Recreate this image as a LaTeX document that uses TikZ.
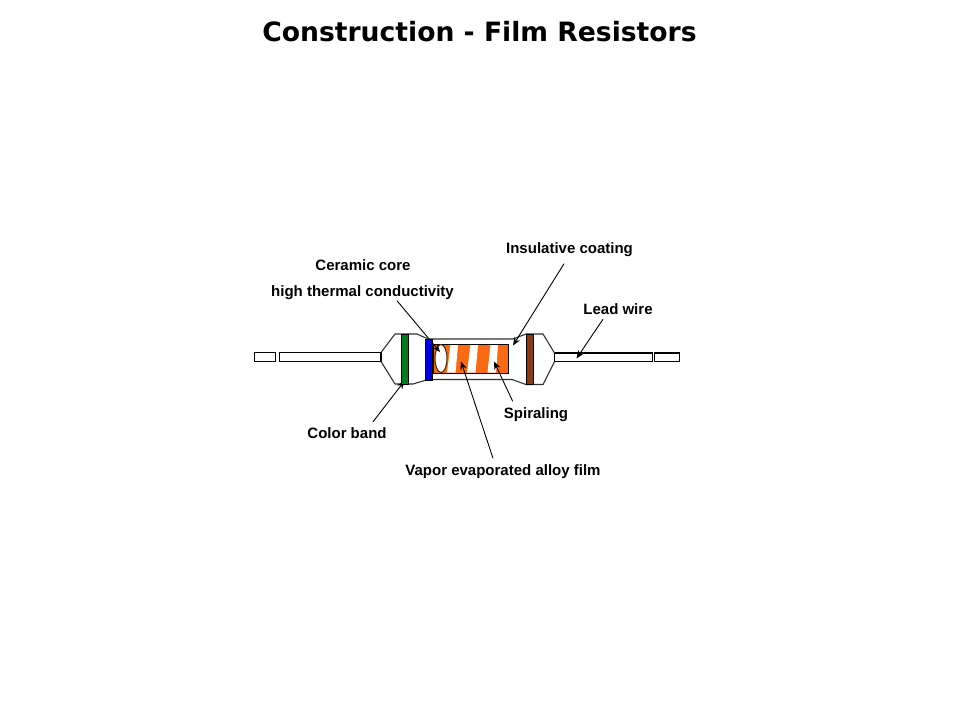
\documentclass[tikz,border=0pt]{standalone}
\usepackage{fontspec}
\setmainfont{Liberation Sans}
\newfontfamily\titlefont{DejaVu Sans}
\usepackage{xcolor}
\usetikzlibrary{arrows.meta, positioning, shapes.geometric}
\definecolor{filmorange}{HTML}{F96A12}
\definecolor{bandgreen}{HTML}{0B7A1E}
\definecolor{bandblue}{HTML}{0000DC}
\definecolor{bandbrown}{HTML}{8A3A16}
\tikzset{
    wire/.style = {draw, fill=white, line width=1.2pt},
    shell/.style = {line width=1.1pt, black!80},
    band/.style = {line width=0.3pt},
    partlabel/.style = {font=\bfseries\fontsize{15}{17}\selectfont, inner sep=1pt},
    pointer/.style = {-{Stealth[length=8pt,width=6.5pt]}, line width=0.9pt}
}
\begin{document}
\begin{tikzpicture}[x=1pt, y=-1pt]
    \useasboundingbox (0,0) rectangle (960,720);
    \node (title) at (479.5,32) [font=\titlefont\bfseries\fontsize{26.6}{30}\selectfont, inner sep=0pt] {Construction - Film Resistors};

    % lead wires
    \draw [wire] (254.5,352.5) rectangle (275.5,361.5);
    \draw [wire] (279.5,352.5) rectangle (381,361.5);
    \draw [wire] (554.5,353) rectangle (652.5,361.5);
    \draw [wire] (654.5,353) rectangle (679.5,361.5);

    % coated body
    \draw [shell] (381,352.5) -- (395,334) -- (417,334) -- (428,339) -- (513,339)
        -- (526,334) -- (543,334) -- (554.5,353);
    \draw [shell] (381,361.5) -- (395,384) -- (413,384) -- (428,379.5) -- (512,379.5)
        -- (526,384.5) -- (543,384.5) -- (554.5,361.5);

    % film on the core
    \fill [filmorange] (433,344.5) rectangle (508,373);
    \draw [line width=1pt] (433,344.5) rectangle (508,373);
    \foreach \xa/\xb in {447/450.5, 467/470.5, 487.5/490.5}
        \fill [white] (\xb,345) -- (\xb+7.5,345) -- (\xa+8.5,372.6) -- (\xa,372.6) -- cycle;
    \node (core) at (441,358.5) [draw=black!70!filmorange, fill=white, ellipse, line width=1pt, minimum width=12pt, minimum height=28pt, inner sep=0pt] {};

    % labels
    \node (ceramic) at (363,265) [partlabel] {Ceramic core};
    \node (thermal) at (362.5,292.5) [partlabel] {high thermal conductivity};
    \node (coating) at (569.5,249.5) [partlabel] {Insulative coating};
    \node (lead) at (618,309.5) [partlabel] {Lead wire};
    \node (spiral) at (536,414.5) [partlabel] {Spiraling};
    \node (color) at (347,433.5) [partlabel] {Color band};
    \node (vapor) at (503,471.5) [partlabel] {Vapor evaporated alloy film};

    \coordinate (coretip) at (440,352);
    \coordinate (coattip) at (513,345.5);
    \coordinate (leadtip) at (576.5,358.5);
    \coordinate (spiraltip) at (494,361.5);
    \coordinate (vaportip) at (461,361.5);
    \coordinate (colortip) at (404.5,381);

    \path [pointer]
        ([xshift=34.5]thermal.south) edge (coretip)
        ([xshift=-5.5, yshift=-6]coating.south) edge (coattip)
        ([xshift=-15, yshift=-3]lead.south) edge (leadtip)
        ([xshift=-23.3, yshift=5]spiral.north) edge (spiraltip)
        ([xshift=-10, yshift=5]vapor.north) edge (vaportip)
        ([xshift=26, yshift=5]color.north) edge (colortip);

    % colour bands
    \draw [band, fill=bandgreen] (401,334) rectangle (408.5,384);
    \draw [band, fill=bandblue] (425,339) rectangle (432.5,380);
    \draw [band, fill=bandbrown] (526,334) rectangle (533,384.5);
\end{tikzpicture}
\end{document}
